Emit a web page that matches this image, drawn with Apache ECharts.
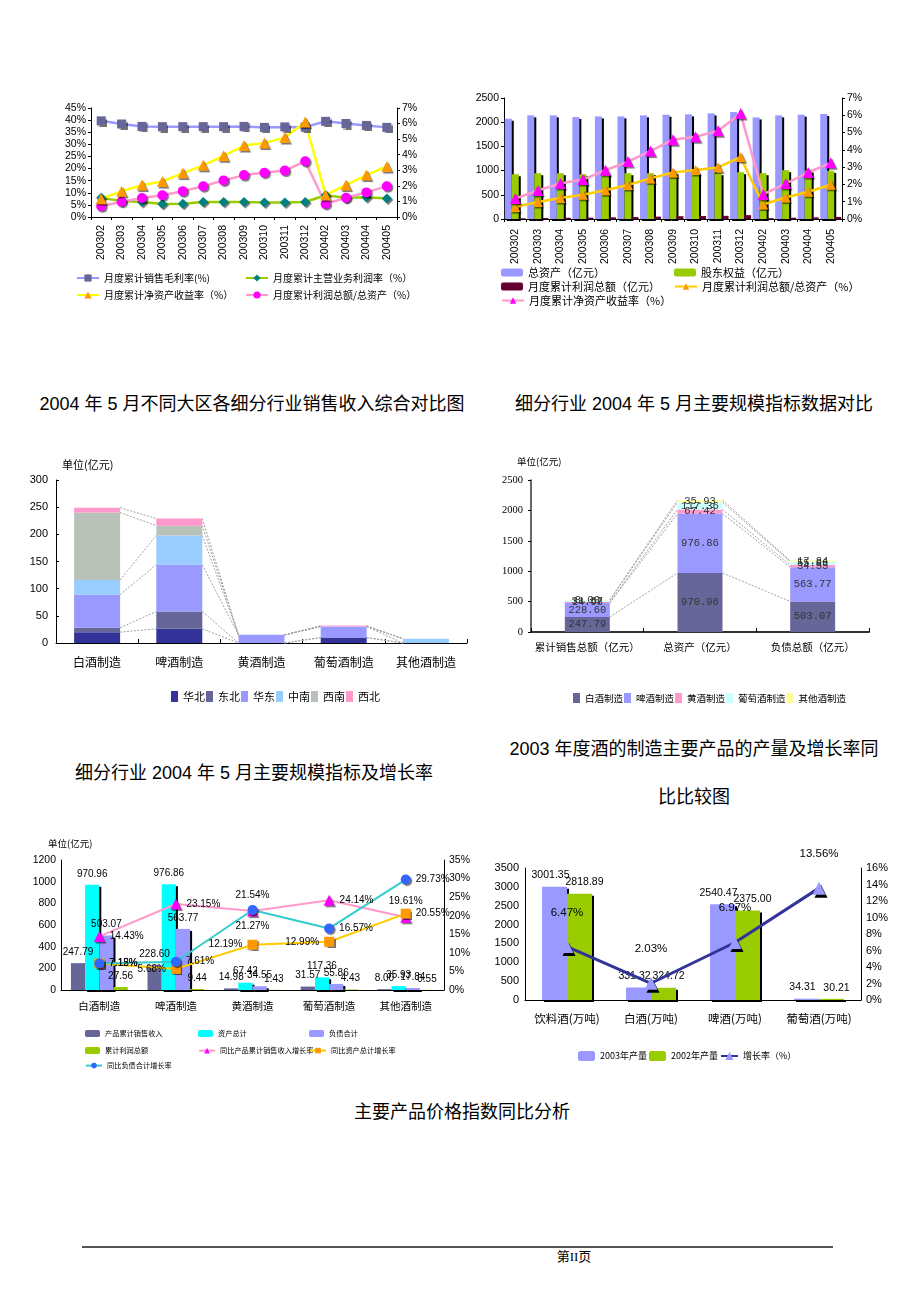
<!DOCTYPE html>
<html><head><meta charset="utf-8">
<script src="https://cdn.jsdelivr.net/npm/echarts/dist/echarts.min.js"></script>
<style>
html,body{margin:0;padding:0;background:#fff;width:920px;height:1302px;overflow:hidden;}
.layer{position:absolute;left:0;top:0;width:920px;height:1302px;}
.t{position:absolute;width:520px;text-align:center;font-family:"Liberation Sans","Noto Sans CJK SC",sans-serif;font-size:18px;line-height:24px;color:#000;white-space:nowrap;}
</style></head>
<body>
<div class="t" style="left:-8px;top:392px;">2004 年 5 月不同大区各细分行业销售收入综合对比图</div>
<div class="t" style="left:434px;top:392px;">细分行业 2004 年 5 月主要规模指标数据对比</div>
<div class="t" style="left:-6px;top:761px;">细分行业 2004 年 5 月主要规模指标及增长率</div>
<div class="t" style="left:434px;top:737px;">2003 年度酒的制造主要产品的产量及增长率同</div>
<div class="t" style="left:434px;top:785px;">比比较图</div>
<div class="t" style="left:202px;top:1100px;">主要产品价格指数同比分析</div>
<div style="position:absolute;left:82px;top:1246px;width:751px;border-top:2px solid #555;"></div>
<div style="position:absolute;left:524px;top:1249px;width:100px;text-align:center;font-family:'Liberation Serif','Noto Sans CJK SC',serif;font-size:13px;line-height:16px;">第II页</div>
<div id="c1" class="layer"></div>
<div id="c2" class="layer"></div>
<div id="c3" class="layer"></div>
<div id="c4" class="layer"></div>
<div id="c5" class="layer"></div>
<div id="c6" class="layer"></div>
<script>
// ---------- DATA ----------
const months = ['200302','200303','200304','200305','200306','200307','200308','200309','200310','200311','200312','200402','200403','200404','200405'];
const grossMargin = [39.7, 38.4, 37.4, 37.3, 37.3, 37.3, 37.3, 37.4, 37.0, 37.2, 37.1, 39.5, 38.6, 37.8, 37.0];
const opMargin = [7.9, 6.6, 6.2, 5.4, 5.5, 6.2, 6.2, 6.2, 6.0, 6.0, 6.2, 9.0, 7.9, 8.2, 7.6];
const roe = [1.18, 1.65, 2.05, 2.28, 2.82, 3.32, 3.93, 4.59, 4.76, 5.1, 6.1, 1.42, 2.05, 2.69, 3.25];
const profitToAssets = [0.69, 0.98, 1.22, 1.4, 1.66, 1.97, 2.35, 2.69, 2.84, 2.98, 3.58, 0.84, 1.24, 1.58, 1.98];
const totalAssets = [2072, 2141, 2141, 2107, 2120, 2120, 2141, 2155, 2162, 2182, 2210, 2099, 2141, 2155, 2169];
const equity = [925, 946, 946, 925, 946, 946, 946, 967, 967, 946, 967, 946, 1008, 1000, 994];
const profitTotal = [15, 20, 26, 29, 35, 41, 49, 58, 62, 65, 80, 18, 27, 34, 43];

const industries = ['白酒制造','啤酒制造','黄酒制造','葡萄酒制造','其他酒制造'];
const regions = ['华北','东北','华东','中南','西南','西北'];
const regionSales = [
  [20, 26, 0, 10, 0],
  [8, 32, 0, 0, 0],
  [61, 86, 14.98, 20, 0],
  [27, 54, 0, 0.5, 8],
  [124, 18, 0, 0, 0],
  [9, 13, 0, 1.5, 0]
];

const indicators = ['累计销售总额（亿元）','总资产（亿元）','负债总额（亿元）'];
const salesRev = [247.79, 228.60, 14.98, 31.57, 8.00];
const assets = [970.96, 976.86, 67.42, 117.36, 35.93];
const debts = [503.07, 563.77, 34.55, 55.86, 17.84];
const profits = [27.56, 9.44, 1.43, 4.43, 0.55];
const salesGrowth = [14.43, 23.15, 21.27, 24.14, 19.61];
const assetGrowth = [7.15, 5.68, 12.19, 12.99, 20.55];
const debtGrowth = [7.12, 7.61, 21.54, 16.57, 29.73];

const products = ['饮料酒(万吨)','白酒(万吨)','啤酒(万吨)','葡萄酒(万吨)'];
const output2003 = [3001.35, 331.32, 2540.47, 34.31];
const output2002 = [2818.89, 324.72, 2375.00, 30.21];
const outputGrowth = [6.47, 2.03, 6.97, 13.56];

// ---------- helpers ----------
const SANS = '"Liberation Sans","Noto Sans CJK SC",sans-serif';
const CJK = '"Noto Sans CJK SC",sans-serif';
const plain = v => String(v);
const pct = v => v + '%';
function vAxis(o){
  const base = {
    type:'value', splitLine:{show:false},
    axisLine:{show:true, lineStyle:{color:'#000', width:1}},
    axisTick:{show:true, length:3, lineStyle:{color:'#000'}},
    axisLabel:{color:'#000', fontSize:10.5, fontFamily:SANS, margin:5, formatter:plain}
  };
  const r = Object.assign(base, o);
  if (o && o.axisLabel) r.axisLabel = Object.assign({color:'#000', fontSize:10.5, fontFamily:SANS, margin:5, formatter:plain}, o.axisLabel);
  return r;
}
function cAxis(o){
  const r = Object.assign({
    type:'category', boundaryGap:true,
    axisLine:{show:true, lineStyle:{color:'#000', width:1}},
    axisTick:{show:true, inside:true, length:4, lineStyle:{color:'#000'}}
  }, o);
  r.axisLabel = Object.assign({color:'#000', fontSize:10.5, fontFamily:SANS, interval:0}, (o && o.axisLabel) || {});
  return r;
}
function leg(name, left, top, o){
  return Object.assign({data:[name], left:left, top:top, itemWidth:22, itemHeight:9, itemGap:0, padding:0,
    textStyle:{fontSize:10, fontFamily:CJK, color:'#000'}, selectedMode:false}, o||{});
}
function shadow(c){ return {color:c, shadowColor:'#000', shadowOffsetX:2, shadowOffsetY:2, shadowBlur:0}; }
function mk(c){ return {color:c, shadowColor:'rgba(0,0,0,0.55)', shadowOffsetX:1.5, shadowOffsetY:1.5, shadowBlur:1}; }
function init(id){ return echarts.init(document.getElementById(id), null, {renderer:'canvas', width:920, height:1302}); }
function connector(cums, barW){
  return function(params, api){
    const i = api.value(0);
    const children = [];
    for (let k=0;k<cums.length;k++){
      const a = api.coord([i, cums[k][i]]);
      const b = api.coord([i+1, cums[k][i+1]]);
      children.push({type:'line', shape:{x1:a[0]+barW/2, y1:a[1], x2:b[0]-barW/2, y2:b[1]},
        style:{stroke:'#a0a0a0', lineWidth:1, lineDash:[2,1.5]}});
    }
    return {type:'group', children:children};
  };
}
function cumulative(rows){
  const out=[]; let acc=rows[0].map(()=>0);
  rows.forEach(r=>{ acc = acc.map((v,j)=>v+r[j]); out.push(acc.slice()); });
  return out;
}

// ---------- Chart 1 ----------
const n1 = ['月度累计销售毛利率(%)','月度累计主营业务利润率（%）','月度累计净资产收益率（%）','月度累计利润总额/总资产（%）'];
init('c1').setOption({
  animation:false,
  grid:{left:91, top:108, width:306, height:109, outerBoundsMode:'none'},
  xAxis:cAxis({data:months, axisTick:{show:true, length:3, lineStyle:{color:'#000'}}, axisLabel:{rotate:90, margin:8}}),
  yAxis:[vAxis({min:0,max:45,interval:5, axisLabel:{formatter:pct}}),
         vAxis({min:0,max:7,interval:1, position:'right', axisLabel:{formatter:pct}})],
  legend:[leg(n1[0],76,273), leg(n1[1],245,273), leg(n1[2],76,290), leg(n1[3],245,290)],
  series:[
    {name:n1[1], type:'line', data:opMargin, yAxisIndex:0, symbol:'diamond', symbolSize:10, lineStyle:{color:'#99cc00', width:2.5}, itemStyle:mk('#008080')},
    {name:n1[0], type:'line', data:grossMargin, yAxisIndex:0, symbol:'rect', symbolSize:9, lineStyle:{color:'#9999ff', width:2.5}, itemStyle:mk('#666699')},
    {name:n1[3], type:'line', data:profitToAssets, yAxisIndex:1, symbol:'circle', symbolSize:10, lineStyle:{color:'#ff99cc', width:2.5}, itemStyle:mk('#ff00ff')},
    {name:n1[2], type:'line', data:roe, yAxisIndex:1, symbol:'triangle', symbolSize:11, lineStyle:{color:'#ffff00', width:2.5}, itemStyle:mk('#ff9900')}
  ]
});

// ---------- Chart 2 ----------
const n2 = ['总资产（亿元）','股东权益（亿元）','月度累计利润总额（亿元）','月度累计利润总额/总资产（%）','月度累计净资产收益率（%）'];
const leg2 = (nm,l,t,o)=>leg(nm,l,t,Object.assign({itemWidth:22,itemHeight:8,textStyle:{fontSize:11,fontFamily:CJK,color:'#000'}},o||{}));
init('c2').setOption({
  animation:false,
  grid:{left:504, top:98, width:338, height:121, outerBoundsMode:'none'},
  xAxis:cAxis({data:months, axisTick:{show:true, length:3, lineStyle:{color:'#000'}}, axisLabel:{rotate:90, margin:10}}),
  yAxis:[vAxis({min:0,max:2500,interval:500}),
         vAxis({min:0,max:7,interval:1, position:'right', axisLabel:{formatter:pct}})],
  legend:[leg2(n2[0],501,267), leg2(n2[1],674,267), leg2(n2[2],501,281), leg2(n2[3],674,281), leg2(n2[4],501,295)],
  series:[
    {name:n2[0], type:'bar', data:totalAssets, barWidth:7, barGap:'0%', itemStyle:shadow('#9999ff')},
    {name:n2[1], type:'bar', data:equity, barWidth:7, barGap:'0%', itemStyle:shadow('#99cc00')},
    {name:n2[2], type:'bar', data:profitTotal, barWidth:7, barGap:'0%', itemStyle:{color:'#660033'}},
    {name:n2[3], type:'line', data:profitToAssets, yAxisIndex:1, symbol:'triangle', symbolSize:10, lineStyle:{color:'#ffcc00', width:2.5}, itemStyle:mk('#ff9900')},
    {name:n2[4], type:'line', data:roe, yAxisIndex:1, symbol:'triangle', symbolSize:11, lineStyle:{color:'#ff99cc', width:2.5}, itemStyle:mk('#ff00ff')}
  ]
});

// ---------- Chart 3 ----------
const regionColors = ['#333399','#666699','#9999ff','#99ccff','#b9c2b9','#ff99cc'];
const bw3 = 46;
const s3 = regions.map((r,k)=>({name:r, type:'bar', stack:'a', data:regionSales[k], barWidth:bw3, itemStyle:{color:regionColors[k]}}));
s3.push({type:'custom', renderItem:connector(cumulative(regionSales), bw3), data:industries.slice(0,-1).map((_,i)=>[i,0]), encode:{x:0,y:1}, silent:true, z:1});
init('c3').setOption({
  animation:false,
  grid:{left:56, top:480, width:411, height:163, outerBoundsMode:'none'},
  xAxis:cAxis({data:industries, axisLabel:{fontSize:12, fontFamily:CJK, margin:13}}),
  yAxis:vAxis({min:0,max:300,interval:50, axisTick:{show:true, inside:true, length:3, lineStyle:{color:'#000'}}, axisLabel:{fontSize:11, margin:8}}),
  legend:{data:regions, left:171, top:691, itemWidth:7, itemHeight:11, itemGap:1, padding:0, icon:'rect', selectedMode:false, textStyle:{fontSize:11, fontFamily:CJK, color:'#000'}},
  graphic:[{type:'text', left:62, top:459, style:{text:'单位(亿元)', fontSize:11, fontFamily:CJK, fill:'#000'}}],
  series:s3
});

// ---------- Chart 4 ----------
const c4names = industries;
const c4colors = ['#666699','#9999ff','#ff99cc','#ccffff','#ffff99'];
const c4rows = [0,1,2,3,4].map(i=>[salesRev[i], assets[i], debts[i]]);
const bw4 = 45;
const s4 = c4names.map((nm,k)=>({name:nm, type:'bar', stack:'a', data:c4rows[k], barWidth:bw4, itemStyle:{color:c4colors[k]},
  label:{show:true, position:'inside', formatter:p=>p.value.toFixed(2), color:'#333', fontSize:10.5, fontFamily:'"Liberation Mono",monospace'}}));
s4.push({type:'custom', renderItem:connector(cumulative(c4rows), bw4), data:indicators.slice(0,-1).map((_,i)=>[i,0]), encode:{x:0,y:1}, silent:true, z:1});
init('c4').setOption({
  animation:false,
  grid:{left:531, top:480, width:338, height:152, outerBoundsMode:'none'},
  xAxis:cAxis({data:indicators, axisLine:{show:true, lineStyle:{color:'#333', width:2}}, axisLabel:{fontSize:10.5, fontFamily:CJK, margin:10}}),
  yAxis:vAxis({min:0,max:2500,interval:500, axisLine:{show:true, lineStyle:{color:'#333', width:1.5}}, axisLabel:{fontSize:10.5, fontFamily:'"Liberation Serif",serif', margin:8}}),
  legend:{data:c4names, left:573, top:693, itemWidth:7, itemHeight:10, itemGap:1, padding:0, icon:'rect', selectedMode:false, textStyle:{fontSize:9.5, fontFamily:CJK, color:'#000'}},
  graphic:[{type:'text', left:517, top:457, style:{text:'单位(亿元)', fontSize:9.5, fontFamily:CJK, fill:'#000'}}],
  series:s4
});

// ---------- Chart 5 ----------
const n5 = ['产品累计销售收入','资产总计','负债合计','累计利润总额','同比产品累计销售收入增长率','同比资产总计增长率','同比负债合计增长率'];
const pinkPos = ['right','right','bottom','right','top'];
const orangePos = ['right','left','left','left','right'];
const bluePos = ['right','right','top','right','right'];
const lab5 = {show:true, color:'#000', fontSize:10, fontFamily:SANS};
const barLab5 = {show:true, position:'top', distance:6, color:'#000', fontSize:10, fontFamily:SANS, formatter:p=>p.value.toFixed(2)};
const pctData = (arr,pos)=>arr.map((v,i)=>({value:v, label:{position:pos[i]}}));
const leg5 = (nm,l,t,o)=>leg(nm,l,t,Object.assign({itemWidth:15,itemHeight:7,textStyle:{fontSize:7.2,fontFamily:CJK,color:'#000'}},o||{}));
init('c5').setOption({
  animation:false,
  grid:{left:61, top:860, width:383, height:130, outerBoundsMode:'none'},
  xAxis:cAxis({data:industries, axisTick:{show:false}, axisLabel:{fontSize:10.5, fontFamily:CJK, margin:11}}),
  yAxis:[vAxis({min:0,max:1200,interval:200, axisTick:{show:false}}),
         vAxis({min:0,max:35,interval:5, position:'right', axisTick:{show:false}, axisLabel:{formatter:pct}})],
  legend:[leg5(n5[0],85,1030), leg5(n5[1],198,1030), leg5(n5[2],309,1030),
          leg5(n5[3],85,1047), leg5(n5[4],198,1047,{itemWidth:16}), leg5(n5[5],309,1047,{itemWidth:16}),
          leg5(n5[6],85,1062,{itemWidth:16})],
  graphic:[{type:'text', left:48, top:839, style:{text:'单位(亿元)', fontSize:9.5, fontFamily:CJK, fill:'#000'}}],
  series:[
    {name:n5[0], type:'bar', data:salesRev, barWidth:14.2, barGap:'0%', itemStyle:{color:'#666699'}, label:barLab5},
    {name:n5[1], type:'bar', data:assets, barWidth:14.2, barGap:'0%', itemStyle:shadow('#00ffff'), label:barLab5},
    {name:n5[2], type:'bar', data:debts, barWidth:14.2, barGap:'0%', itemStyle:shadow('#9999ff'), label:barLab5},
    {name:n5[3], type:'bar', data:profits, barWidth:14.2, barGap:'0%', itemStyle:{color:'#99cc00'}, label:barLab5},
    {name:n5[4], type:'line', yAxisIndex:1, data:pctData(salesGrowth,pinkPos), symbol:'triangle', symbolSize:11, lineStyle:{color:'#ff99cc', width:2}, itemStyle:mk('#ff00ff'), label:Object.assign({formatter:'{c}%'},lab5)},
    {name:n5[5], type:'line', yAxisIndex:1, data:pctData(assetGrowth,orangePos), symbol:'rect', symbolSize:10, lineStyle:{color:'#ffcc00', width:2}, itemStyle:mk('#ff9900'), label:Object.assign({formatter:'{c}%'},lab5)},
    {name:n5[6], type:'line', yAxisIndex:1, data:pctData(debtGrowth,bluePos), symbol:'circle', symbolSize:10, lineStyle:{color:'#33cccc', width:2}, itemStyle:mk('#3366ff'), label:Object.assign({formatter:'{c}%'},lab5)}
  ]
});

// ---------- Chart 6 ----------
const n6 = ['2003年产量','2002年产量','增长率（%）'];
const barLab6 = {show:true, position:'top', distance:6, color:'#000', fontSize:10.5, fontFamily:SANS, formatter:p=>p.value.toFixed(2)};
init('c6').setOption({
  animation:false,
  grid:{left:525, top:868, width:336, height:132, outerBoundsMode:'none'},
  xAxis:cAxis({data:products, axisTick:{show:false}, axisLabel:{fontSize:11.5, fontFamily:CJK, margin:13}}),
  yAxis:[vAxis({min:0,max:3500,interval:500, axisTick:{show:false}, axisLabel:{fontSize:11, margin:6}}),
         vAxis({min:0,max:16,interval:2, position:'right', axisTick:{show:false}, axisLabel:{formatter:pct, fontSize:11}})],
  legend:{data:n6, left:578, top:1051, itemWidth:17, itemHeight:10, itemGap:2, padding:0, selectedMode:false,
    textStyle:{fontSize:9, fontFamily:CJK, color:'#000'}},
  series:[
    {name:n6[0], type:'bar', data:output2003, barWidth:25, barGap:'0%', itemStyle:shadow('#9999ff'), label:Object.assign({offset:[-4,0]},barLab6)},
    {name:n6[1], type:'bar', data:output2002, barWidth:25, barGap:'0%', itemStyle:shadow('#99cc00'), label:Object.assign({offset:[5,0]},barLab6)},
    {name:n6[2], type:'line', yAxisIndex:1, data:outputGrowth, symbol:'triangle', symbolSize:13, lineStyle:{color:'#333399', width:3},
      itemStyle:{color:'#9999ff', shadowColor:'#000', shadowOffsetX:2, shadowOffsetY:3, shadowBlur:0},
      label:{show:true, position:'top', distance:22, formatter:'{c}%', color:'#000', fontSize:11.5, fontFamily:SANS}}
  ]
});
</script>
</body></html>
